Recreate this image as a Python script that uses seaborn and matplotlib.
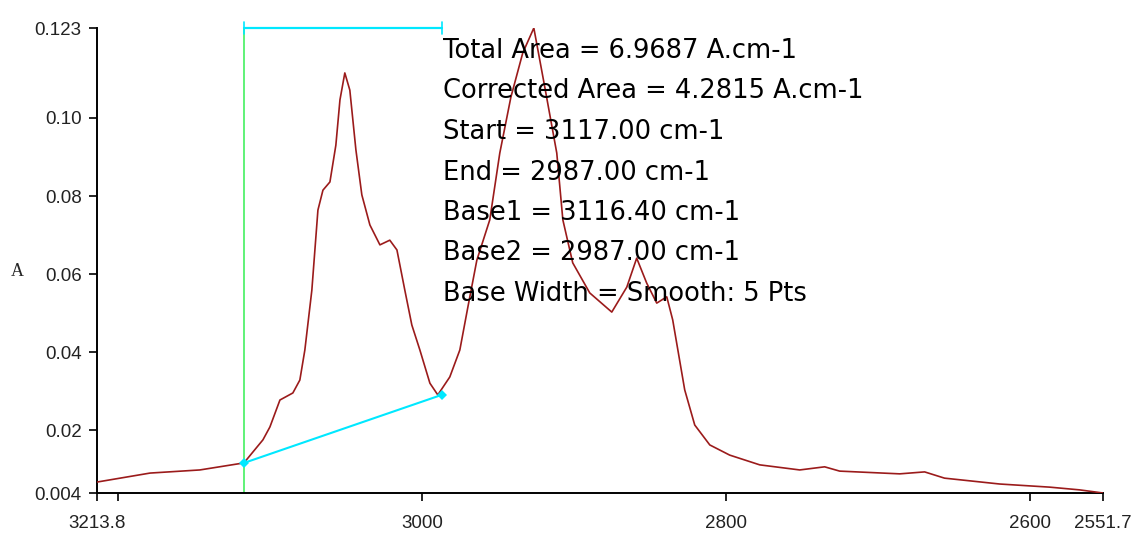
import numpy as np
import pandas as pd
import matplotlib
matplotlib.use('Agg')
import matplotlib.pyplot as plt
import seaborn as sns

# Spectrum (wavenumber cm-1, absorbance A)
wavenumber = [3213.8, 3178.9, 3146.1, 3117.1, 3104.6, 3100.0, 3093.4, 3084.9,
              3080.3, 3077.0, 3072.4, 3068.4, 3065.1, 3060.5, 3056.6, 3053.9,
              3050.7, 3047.4, 3043.4, 3039.5, 3034.2, 3027.6, 3021.1, 3016.4,
              3011.2, 3006.6, 3001.3, 2994.7, 2989.5, 2981.6, 2975.0, 2969.7,
              2963.8, 2955.3, 2948.7, 2941.4, 2933.6, 2926.3, 2919.1, 2911.2,
              2907.2, 2900.7, 2889.5, 2875.0, 2865.1, 2858.6, 2852.0, 2845.4,
              2838.8, 2834.9, 2827.0, 2820.4, 2810.5, 2797.4, 2777.6, 2751.3,
              2734.9, 2725.0, 2685.5, 2669.1, 2656.0, 2619.7, 2586.8, 2567.1,
              2551.7]
absorbance = [0.0068, 0.0091, 0.0099, 0.0117, 0.0176, 0.0209, 0.0278, 0.0296,
              0.0329, 0.0406, 0.0559, 0.0764, 0.0815, 0.0836, 0.0930, 0.1046,
              0.1115, 0.1071, 0.0918, 0.0803, 0.0726, 0.0675, 0.0687, 0.0662,
              0.0559, 0.0470, 0.0406, 0.0321, 0.0291, 0.0337, 0.0406, 0.0516,
              0.0636, 0.0739, 0.0910, 0.1053, 0.1166, 0.1230, 0.1079, 0.0910,
              0.0739, 0.0629, 0.0552, 0.0503, 0.0567, 0.0641, 0.0577, 0.0526,
              0.0542, 0.0483, 0.0304, 0.0214, 0.0163, 0.0137, 0.0112, 0.0099,
              0.0107, 0.0096, 0.0089, 0.0094, 0.0078, 0.0063, 0.0055, 0.0048,
              0.0040]

# Peak area baseline
base_x = [3117.0, 2987.0]
base_y = [0.0117, 0.0291]
start_x = 3117.0
end_x = 2987.0

x_ticks = [3213.8, 3200, 3000, 2800, 2600, 2551.7]
x_labels = ['3213.8', '', '3000', '2800', '2600', '2551.7']
y_ticks = [0.004, 0.02, 0.04, 0.06, 0.08, 0.10, 0.123]
y_labels = ['0.004', '0.02', '0.04', '0.06', '0.08', '0.10', '0.123']

info_lines = ['Total Area = 6.9687 A.cm-1',
              'Corrected Area = 4.2815 A.cm-1',
              'Start = 3117.00 cm-1',
              'End = 2987.00 cm-1',
              'Base1 = 3116.40 cm-1',
              'Base2 = 2987.00 cm-1',
              'Base Width = Smooth: 5 Pts']

spectrum_df = pd.DataFrame({'wavenumber': wavenumber, 'A': absorbance})
base_df = pd.DataFrame({'wavenumber': base_x, 'A': base_y})

sns.set_style('white')

W, H = 1133, 534
fig = plt.figure(figsize=(W / 100, H / 100), dpi=100)
ax = fig.add_axes([97 / W, 1 - 493 / H, (1103 - 97) / W, (493 - 28) / H])

# start marker line and top bracket
ax.axvline(start_x, color='#44f060', lw=1.2, zorder=1)
ax.plot([start_x, end_x], [0.123, 0.123], color='#00e8ff', lw=1.6,
        clip_on=False, zorder=2)
for xx in (start_x, end_x):
    ax.plot([xx, xx], [0.1215, 0.1245], color='#00e8ff', lw=1.2,
            clip_on=False, zorder=2)

sns.lineplot(data=spectrum_df, x='wavenumber', y='A', color='#9b1b1b',
             lw=1.2, estimator=None, ax=ax, zorder=3)
sns.lineplot(data=base_df, x='wavenumber', y='A', color='#00e8ff', lw=1.5,
             estimator=None, marker='D', markersize=5, markeredgewidth=0,
             ax=ax, zorder=4)

ax.set_xlim(3213.8, 2551.7)
ax.set_ylim(0.004, 0.123)
ax.set_xticks(x_ticks)
ax.set_xticklabels(x_labels)
ax.set_yticks(y_ticks)
ax.set_yticklabels(y_labels)
ax.tick_params(axis='both', direction='out', length=6, width=1.2,
               color='black', labelsize=13.5, labelcolor='#222222',
               bottom=True, left=True)
ax.tick_params(axis='x', pad=10)
ax.tick_params(axis='y', pad=5)
for lab in ax.get_xticklabels() + ax.get_yticklabels():
    lab.set_family('Liberation Sans')

for side in ('top', 'right'):
    ax.spines[side].set_visible(False)
for side in ('left', 'bottom'):
    ax.spines[side].set_color('black')
    ax.spines[side].set_linewidth(1.4)

ax.set_xlabel('')
ax.set_ylabel('')
fig.text(17 / W, 1 - 272 / H, 'A', family='Liberation Serif', fontsize=13,
         ha='center', va='center')

for i, line in enumerate(info_lines):
    fig.text(443 / W, 1 - (51 + 40.5 * i) / H, line, family='DejaVu Sans',
             fontsize=18.5, ha='left', va='center', color='black', zorder=2)

fig.savefig('out.png', dpi=100, facecolor='white')
